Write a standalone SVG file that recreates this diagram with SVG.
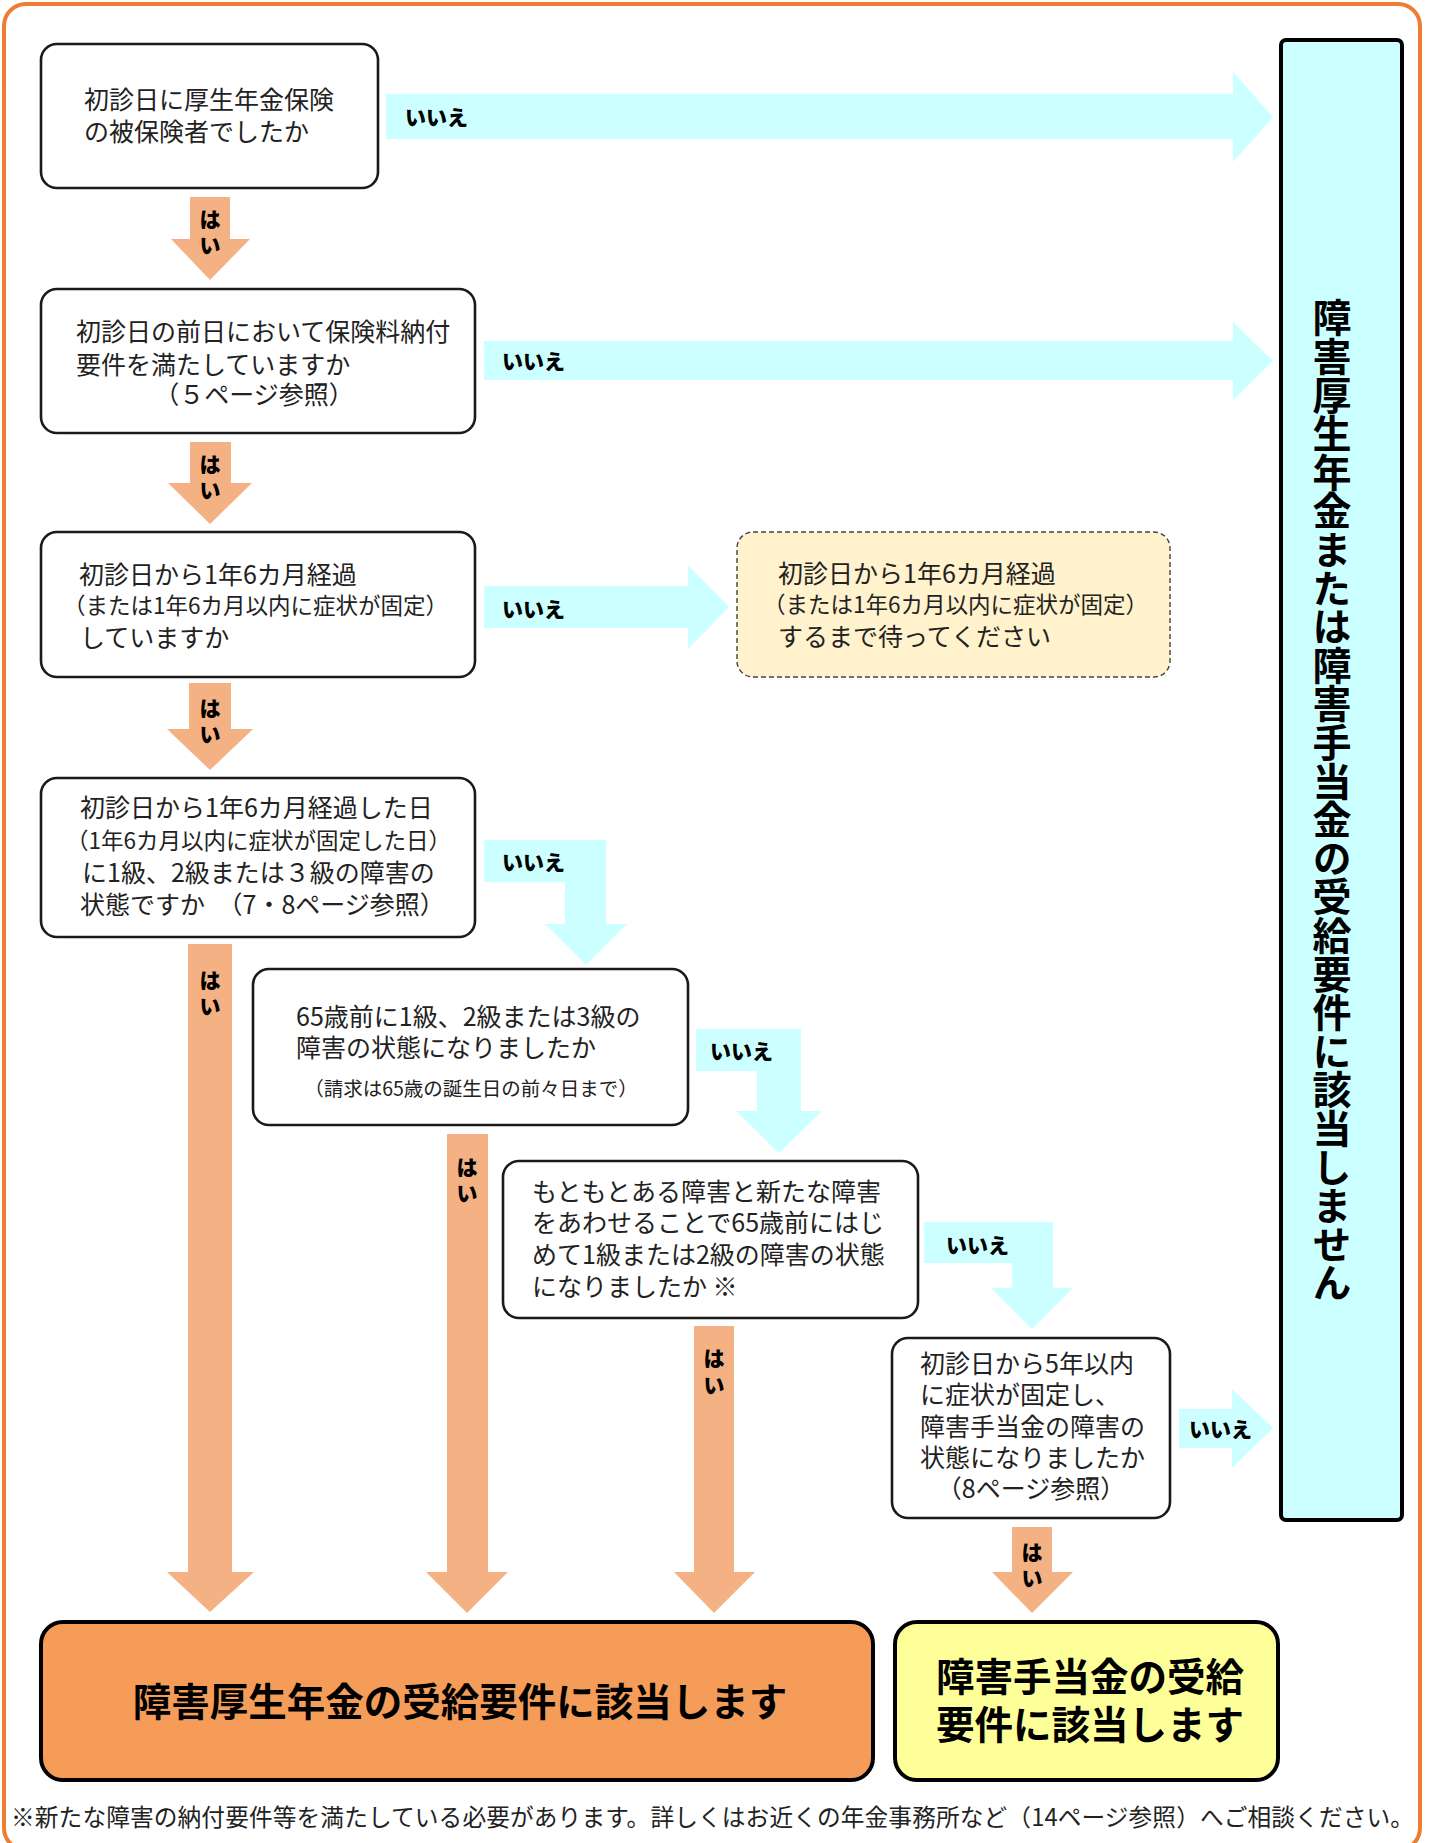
<svg xmlns="http://www.w3.org/2000/svg" width="1429" height="1843" viewBox="0 0 1429 1843">
<style>
.q{fill:#fff;stroke:#1a1a1a;stroke-width:2.6}
.t{font-family:"Noto Sans CJK JP","Noto Sans",sans-serif;font-size:25px;fill:#222}
.s{font-size:22.5px}
.xs{font-size:19.5px}
.lab{font-family:"Noto Sans CJK JP","Noto Sans",sans-serif;font-size:21px;font-weight:900;fill:#000}
.cy{fill:#CCFFFF}
.or{fill:#F4B183}
.big{font-family:"Noto Sans CJK JP","Noto Sans",sans-serif;font-size:38.5px;font-weight:700;fill:#000}
.vert{font-family:"Noto Sans CJK JP","Noto Sans",sans-serif;font-size:39px;font-weight:700;fill:#000;writing-mode:vertical-rl}
</style>
<rect id="frame" x="4" y="4" width="1416" height="1846" rx="22" fill="#fff" stroke="#ED7D31" stroke-width="4"/>

<g id="connectors">
  <g id="a1"><path class="cy" d="M386,94 H1233 V72 L1273,117 L1233,162 V139 H386 Z"/><text class="lab" x="405" y="125">いいえ</text></g>
  <g id="a2"><path class="cy" d="M484,341 H1233 V322 L1273,361 L1233,400 V380 H484 Z"/><text class="lab" x="502" y="369">いいえ</text></g>
  <g id="a3"><path class="cy" d="M484,586 H688 V565 L729,607 L688,649 V628 H484 Z"/><text class="lab" x="502" y="617">いいえ</text></g>
  <g id="a4"><path class="cy" d="M484,840 H606 V924 H627 L586,965 L545,924 H565 V882 H484 Z"/><text class="lab" x="502" y="870">いいえ</text></g>
  <g id="a5"><path class="cy" d="M696,1029 H801 V1111 H822 L779,1153 L736,1111 H757 V1071 H696 Z"/><text class="lab" x="710" y="1059">いいえ</text></g>
  <g id="a6"><path class="cy" d="M924,1222 H1053 V1288 H1073 L1032,1329 L991,1288 H1012 V1263 H924 Z"/><text class="lab" x="946" y="1253">いいえ</text></g>
  <g id="a7"><path class="cy" d="M1179,1409 H1232 V1389 L1273,1428 L1232,1468 V1448 H1179 Z"/><text class="lab" x="1189" y="1437">いいえ</text></g>

  <g id="o1"><path class="or" d="M190,197 H230 V239 H250 L210,280 L171,239 H190 Z"/><text class="lab" text-anchor="middle"><tspan x="210" y="227">は</tspan><tspan x="210" y="253">い</tspan></text></g>
  <g id="o2"><path class="or" d="M190,442 H231 V483 H252 L210,524 L168,483 H190 Z"/><text class="lab" text-anchor="middle"><tspan x="210" y="472">は</tspan><tspan x="210" y="498">い</tspan></text></g>
  <g id="o3"><path class="or" d="M189,683 H231 V729 H253 L210,770 L167,729 H189 Z"/><text class="lab" text-anchor="middle"><tspan x="210" y="716">は</tspan><tspan x="210" y="742">い</tspan></text></g>
  <g id="o4"><path class="or" d="M188,944 H232 V1572 H254 L210,1612 L167,1572 H188 Z"/><text class="lab" text-anchor="middle"><tspan x="210" y="988">は</tspan><tspan x="210" y="1014">い</tspan></text></g>
  <g id="o5"><path class="or" d="M447,1134 H488 V1572 H508 L467,1613 L426,1572 H447 Z"/><text class="lab" text-anchor="middle"><tspan x="467" y="1175">は</tspan><tspan x="467" y="1201">い</tspan></text></g>
  <g id="o6"><path class="or" d="M694,1326 H734 V1572 H755 L714,1613 L674,1572 H694 Z"/><text class="lab" text-anchor="middle"><tspan x="714" y="1366">は</tspan><tspan x="714" y="1393">い</tspan></text></g>
  <g id="o7"><path class="or" d="M1012,1527 H1052 V1572 H1073 L1032,1613 L992,1572 H1012 Z"/><text class="lab" text-anchor="middle"><tspan x="1032" y="1560">は</tspan><tspan x="1032" y="1586">い</tspan></text></g>
</g>

<g id="q1">
  <rect class="q" x="41" y="44" width="337" height="144" rx="16"/>
  <text class="t"><tspan x="84" y="109">初診日に厚生年金保険</tspan><tspan x="84" y="141">の被保険者でしたか</tspan></text>
</g>
<g id="q2">
  <rect class="q" x="41" y="289" width="434" height="144" rx="16"/>
  <text class="t"><tspan x="76" y="341">初診日の前日において保険料納付</tspan><tspan x="76" y="374">要件を満たしていますか</tspan><tspan x="254" y="404" text-anchor="middle">（５ページ参照）</tspan></text>
</g>
<g id="q3">
  <rect class="q" x="41" y="532" width="434" height="145" rx="16"/>
  <text class="t"><tspan x="79" y="584">初診日から1年6カ月経過</tspan><tspan class="s" x="63" y="614">（または1年6カ月以内に症状が固定）</tspan><tspan x="80" y="647">していますか</tspan></text>
</g>
<g id="wait">
  <rect x="737" y="532" width="433" height="145" rx="16" fill="#FFF2CC" stroke="#444" stroke-width="1.4" stroke-dasharray="5 3"/>
  <text class="t"><tspan x="778" y="583">初診日から1年6カ月経過</tspan><tspan class="s" x="763" y="613">（または1年6カ月以内に症状が固定）</tspan><tspan x="778" y="646">するまで待ってください</tspan></text>
</g>
<g id="q4">
  <rect class="q" x="41" y="778" width="434" height="159" rx="16"/>
  <text class="t"><tspan x="80" y="817">初診日から1年6カ月経過した日</tspan><tspan class="s" x="66" y="849">（1年6カ月以内に症状が固定した日）</tspan><tspan x="82" y="882">に1級、2級または３級の障害の</tspan><tspan x="80" y="914">状態ですか　（7・8ページ参照）</tspan></text>
</g>
<g id="q5">
  <rect class="q" x="253" y="969" width="435" height="156" rx="16"/>
  <text class="t"><tspan x="296" y="1026">65歳前に1級、2級または3級の</tspan><tspan x="296" y="1057">障害の状態になりましたか</tspan><tspan class="xs" x="471" y="1096" text-anchor="middle">（請求は65歳の誕生日の前々日まで）</tspan></text>
</g>
<g id="q6">
  <rect class="q" x="503" y="1161" width="415" height="157" rx="16"/>
  <text class="t"><tspan x="532" y="1201">もともとある障害と新たな障害</tspan><tspan x="532" y="1232">をあわせることで65歳前にはじ</tspan><tspan x="532" y="1264">めて1級または2級の障害の状態</tspan><tspan x="532" y="1296">になりましたか ※</tspan></text>
</g>
<g id="q7">
  <rect class="q" x="892" y="1338" width="278" height="180" rx="16"/>
  <text class="t"><tspan x="920" y="1373">初診日から5年以内</tspan><tspan x="920" y="1404">に症状が固定し、</tspan><tspan x="920" y="1436">障害手当金の障害の</tspan><tspan x="920" y="1467">状態になりましたか</tspan><tspan x="1031" y="1498" text-anchor="middle">（8ページ参照）</tspan></text>
</g>
<g id="no">
  <rect x="1281" y="40" width="121" height="1480" rx="5" fill="#CCFFFF" stroke="#000" stroke-width="4"/>
  <text class="vert" x="1332" y="298" textLength="1004">障害厚生年金または障害手当金の受給要件に該当しません</text>
</g>
<g id="yes-kosei">
  <rect x="41" y="1622" width="832" height="158" rx="22" fill="#F59D58" stroke="#000" stroke-width="4"/>
  <text class="big" x="460" y="1716" text-anchor="middle">障害厚生年金の受給要件に該当します</text>
</g>
<g id="yes-teate">
  <rect x="895" y="1622" width="383" height="158" rx="22" fill="#FFFF99" stroke="#000" stroke-width="4"/>
  <text class="big" text-anchor="middle"><tspan x="1090" y="1691">障害手当金の受給</tspan><tspan x="1090" y="1739">要件に該当します</tspan></text>
</g>
<text id="note" class="t" x="11" y="1826" style="font-size:23.7px" textLength="1403">※新たな障害の納付要件等を満たしている必要があります。詳しくはお近くの年金事務所など（14ページ参照）へご相談ください。</text>
</svg>
